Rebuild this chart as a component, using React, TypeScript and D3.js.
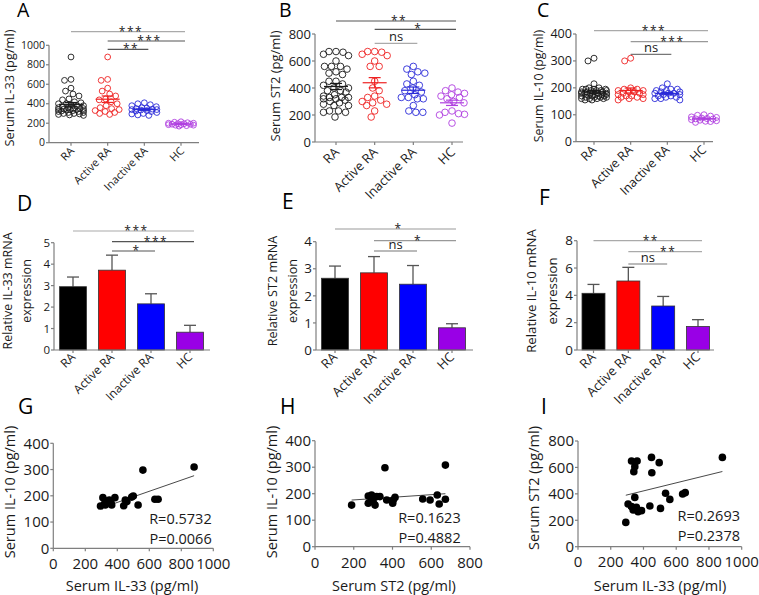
import React, { useEffect } from 'react';
import * as d3 from 'd3';

// ---------- DATA ----------
const CATS = ['RA', 'Active RA', 'Inactive RA', 'HC'];

// Panel A: serum IL-33 (pg/ml)
const il33Active = [880, 650, 640, 560, 530, 500, 480, 450, 440, 420, 400, 380, 360, 350, 340, 330, 320, 310, 300, 290];
const il33Inactive = [410, 400, 390, 380, 370, 360, 355, 350, 345, 340, 340, 335, 330, 325, 320, 310, 300, 295, 285, 280];
const il33HC = [215, 210, 205, 200, 200, 195, 195, 190, 190, 185, 185, 180, 180, 175, 170];

// Panel B: serum ST2 (pg/ml)
const st2Active = [670, 670, 665, 650, 640, 600, 560, 560, 450, 400, 380, 340, 330, 310, 300, 290, 280, 270, 230, 185];
const st2Inactive = [560, 540, 520, 510, 500, 450, 430, 420, 400, 380, 370, 350, 330, 320, 330, 320, 270, 230, 220, 220];
const st2HC = [400, 380, 370, 360, 350, 340, 330, 320, 300, 290, 230, 220, 210, 205, 200, 140];

// Panel C: serum IL-10 (pg/ml)
const il10Active = [310, 300, 200, 195, 195, 190, 190, 185, 185, 180, 180, 175, 175, 170, 170, 165, 165, 160, 160, 155];
const il10Inactive = [215, 200, 195, 195, 190, 190, 185, 185, 180, 180, 180, 175, 175, 170, 170, 165, 165, 160, 160, 155];
const il10HC = [100, 98, 95, 92, 90, 88, 86, 85, 84, 82, 80, 78, 76, 75, 72];

// Panels D-F: relative mRNA expression (mean, SEM)
const il33Mrna = [2.95, 3.72, 2.15, 0.83];
const il33MrnaSem = [0.45, 0.7, 0.47, 0.32];
const st2Mrna = [2.65, 2.85, 2.43, 0.82];
const st2MrnaSem = [0.45, 0.6, 0.69, 0.15];
const il10Mrna = [4.15, 5.05, 3.22, 1.72];
const il10MrnaSem = [0.65, 1.0, 0.7, 0.5];

// Significance comparisons [from, to, label]
const sigA: [number, number, string][] = [[0, 3, '***'], [1, 3, '***'], [1, 2, '**']];
const sigB: [number, number, string][] = [[0, 3, '**'], [1, 3, '*'], [1, 2, 'ns']];
const sigC: [number, number, string][] = [[0, 3, '***'], [1, 3, '***'], [1, 2, 'ns']];
const sigD: [number, number, string][] = [[0, 3, '***'], [1, 3, '***'], [1, 2, '*']];
const sigE: [number, number, string][] = [[0, 3, '*'], [1, 3, '*'], [1, 2, 'ns']];
const sigF: [number, number, string][] = [[0, 3, '**'], [1, 3, '**'], [1, 2, 'ns']];

// Panel G: IL-33 vs IL-10
const gIl33 = [880, 560, 635, 655, 500, 490, 530, 450, 440, 385, 365, 350, 340, 310, 325, 295, 330, 460, 360, 320];
const gIl10 = [310, 298, 187, 187, 199, 195, 165, 184, 162, 193, 165, 184, 176, 193, 165, 161, 180, 178, 175, 170];
const gFit = { slope: 0.212, intercept: 90, from: 290, to: 880 };
const gStats = ['R=0.5732', 'P=0.0066'];

// Panel H: ST2 vs IL-10
const hSt2 = [189, 275, 292, 292, 318, 361, 370, 404, 413, 401, 310, 556, 594, 631, 641, 673, 673, 275, 335, 300];
const hIl10 = [157, 164, 182, 195, 189, 298, 176, 176, 186, 164, 157, 180, 176, 195, 161, 308, 179, 191, 189, 170];
const hFit = { slope: 0.0496, intercept: 166.6, from: 189, to: 673 };
const hStats = ['R=0.1623', 'P=0.4882'];

// Panel I: IL-33 vs ST2
const iIl33 = [882, 449, 496, 327, 361, 347, 341, 451, 347, 535, 561, 639, 655, 306, 327, 337, 357, 388, 367, 439, 504, 292];
const iSt2 = [676, 676, 636, 649, 649, 606, 568, 560, 373, 404, 358, 399, 409, 323, 303, 278, 298, 273, 265, 308, 290, 184];
const iFit = { slope: 0.3046, intercept: 300.5, from: 292, to: 882 };
const iStats = ['R=0.2693', 'P=0.2378'];

// ---------- STYLE ----------
const FONT = "'Open Sans', sans-serif";
const AXIS = '#7f7f7f';
const TXT = '#1a1a1a';
const DOT_COLORS = ['#1a1a1a', '#ee2222', '#2a2ad8', '#b040e0'];
const BAR_COLORS = ['#000000', '#ff0000', '#0000ff', '#9900e6'];

// deterministic beeswarm layout: each point takes the least-overlapping slot within ±maxW
function swarm(vals: number[], y: (v: number) => number, r: number, maxW: number) {
  const out = vals.map((v) => ({ v, py: y(v), dx: 0 }));
  const order = vals.map((_, i) => i).sort((a, b) => vals[b] - vals[a]);
  const placed: { x: number; y: number }[] = [];
  for (const i of order) {
    const py = out[i].py;
    let best = 0;
    let bestCost = Infinity;
    for (let dx = -maxW; dx <= maxW + 1e-9; dx += 0.5) {
      let c = 0.01 * Math.abs(dx);
      for (const p of placed) {
        const d = Math.hypot(p.x - dx, p.y - py);
        const o = 2 * r + 0.4 - d;
        if (o > 0) c += o * o;
      }
      if (c < bestCost - 1e-9) {
        bestCost = c;
        best = dx;
      }
    }
    out[i].dx = best;
    placed.push({ x: best, y: py });
  }
  return out;
}

function Sig({ x, sig, ys, colors, fs }: any) {
  return (
    <g>
      {sig.map(([a, b, t]: [number, number, string], i: number) => {
        const x1 = x(CATS[a]);
        const x2 = x(CATS[b]) + 4;
        const yy = ys[i];
        const isNs = t === 'ns';
        return (
          <g key={i}>
            <line x1={x1} x2={x2} y1={yy} y2={yy} stroke={colors[i]} strokeWidth={1.2} />
            <text x={(x1 + x2) / 2 + (isNs ? 0 : 3)} y={isNs ? yy - 2 : yy + 4} textAnchor="middle" fontSize={isNs ? fs + 1 : fs}
              letterSpacing={isNs ? 0 : 1.5} fill={TXT} fontFamily={FONT}>{t}</text>
          </g>
        );
      })}
    </g>
  );
}

function YAxis({ y, ticks, x0, fs }: any) {
  const r = y.range();
  return (
    <g>
      <line x1={x0} x2={x0} y1={r[0]} y2={r[1]} stroke={AXIS} strokeWidth={1.2} />
      {ticks.map((t: number) => (
        <g key={t}>
          <line x1={x0 - 3} x2={x0} y1={y(t)} y2={y(t)} stroke={AXIS} strokeWidth={1.2} />
          <text x={x0 - 4} y={y(t)} dy="0.35em" textAnchor="end" fontSize={fs} fill={TXT} fontFamily={FONT}>
            {t}
          </text>
        </g>
      ))}
    </g>
  );
}

function CatAxis({ x, axX, y0, fs, off }: any) {
  return (
    <g>
      <line x1={axX[0]} x2={axX[1]} y1={y0} y2={y0} stroke={AXIS} strokeWidth={1.2} />
      {CATS.map((c) => (
        <g key={c}>
          <line x1={x(c)} x2={x(c)} y1={y0} y2={y0 + 3} stroke={AXIS} strokeWidth={1.2} />
          <text transform={`translate(${x(c) + off[0]},${y0 + off[1]}) rotate(-45)`} textAnchor="end"
            fontSize={fs} fill={TXT} fontFamily={FONT}>{c}</text>
        </g>
      ))}
    </g>
  );
}

function Letter({ t, x, y, fs }: any) {
  return <text x={x} y={y} fontSize={fs} fill="#000" fontFamily={FONT}>{t}</text>;
}

function DotPanel({ L, groups, sig }: any) {
  const x = d3.scalePoint<string>().domain(CATS).range(L.cat);
  const y = d3.scaleLinear().domain([0, L.yMax]).range(L.yR);
  const ticks = d3.range(0, L.yMax + 1e-9, L.tickStep);
  return (
    <g>
      <Letter t={L.letter} x={L.lx} y={L.ly} fs={19.5} />
      <Sig x={x} sig={sig} ys={L.sigY} colors={L.sigC} fs={12} />
      {groups.map((vals: number[], gi: number) => {
        const cx = x(CATS[gi])!;
        const pts = swarm(vals, y, L.r, 12.5);
        const m = d3.mean(vals)!;
        const sem = d3.deviation(vals)! / Math.sqrt(vals.length);
        const col = DOT_COLORS[gi];
        return (
          <g key={gi}>
            {pts.map((p, i) => (
              <circle key={i} cx={cx + p.dx} cy={p.py} r={L.r} fill="none" stroke={col} strokeWidth={0.9} />
            ))}
            <line x1={cx - 12} x2={cx + 12} y1={y(m)} y2={y(m)} stroke={col} strokeWidth={1.2} />
            <line x1={cx} x2={cx} y1={y(m - sem)} y2={y(m + sem)} stroke={col} strokeWidth={1.2} />
            <line x1={cx - 6} x2={cx + 6} y1={y(m + sem)} y2={y(m + sem)} stroke={col} strokeWidth={1.2} />
            <line x1={cx - 6} x2={cx + 6} y1={y(m - sem)} y2={y(m - sem)} stroke={col} strokeWidth={1.2} />
          </g>
        );
      })}
      <YAxis y={y} ticks={ticks} x0={L.axX[0]} fs={L.tfs} />
      <CatAxis x={x} axX={L.axX} y0={L.yR[0]} fs={L.cfs} off={L.off} />
      <text transform={`translate(${L.ylx},${L.yly}) rotate(-90)`} textAnchor="middle" dominantBaseline="central"
        fontSize={L.ylfs} fill={TXT} fontFamily={FONT}>{L.yl}</text>
    </g>
  );
}

function BarPanel({ L, means, sems, sig }: any) {
  const x = d3.scalePoint<string>().domain(CATS).range(L.cat);
  const y = d3.scaleLinear().domain([0, L.yMax]).range(L.yR);
  const ticks = d3.range(0, L.yMax + 1e-9, L.tickStep);
  return (
    <g>
      <Letter t={L.letter} x={L.lx} y={L.ly} fs={21} />
      <Sig x={x} sig={sig} ys={L.sigY} colors={L.sigC} fs={12} />
      {means.map((m: number, i: number) => {
        const cx = x(CATS[i])!;
        const top = y(m + sems[i]);
        return (
          <g key={i}>
            <line x1={cx} x2={cx} y1={y(m)} y2={top} stroke="#555" strokeWidth={1.3} />
            <line x1={cx - 6} x2={cx + 6} y1={top} y2={top} stroke="#555" strokeWidth={1.3} />
            <rect x={cx - L.bw / 2} y={y(m)} width={L.bw} height={y(0) - y(m)} fill={BAR_COLORS[i]}
              stroke="#333" strokeWidth={0.8} />
          </g>
        );
      })}
      <YAxis y={y} ticks={ticks} x0={L.axX[0]} fs={L.tfs} />
      <CatAxis x={x} axX={L.axX} y0={L.yR[0]} fs={L.cfs} off={L.off} />
      {L.yl.map((t: string, i: number) => (
        <text key={i} transform={`translate(${L.ylx[i]},${L.yly}) rotate(-90)`} textAnchor="middle"
          dominantBaseline="central" fontSize={L.ylfs} fill={TXT} fontFamily={FONT}>{t}</text>
      ))}
    </g>
  );
}

function ScatterPanel({ L, xs, ys, fit, stats }: any) {
  const x = d3.scaleLinear().domain([0, L.xMax]).range(L.xR);
  const y = d3.scaleLinear().domain([0, L.yMax]).range(L.yR);
  const xt = d3.range(0, L.xMax + 1e-9, L.xStep);
  const yt = d3.range(0, L.yMax + 1e-9, L.yStep);
  const line = d3.line<number>().x((v) => x(v)).y((v) => y(fit.intercept + fit.slope * v));
  return (
    <g>
      <Letter t={L.letter} x={L.lx} y={L.ly} fs={21} />
      <path d={line([fit.from, fit.to])!} stroke="#333" strokeWidth={0.9} fill="none" />
      {xs.map((v: number, i: number) => (
        <circle key={i} cx={x(v)} cy={y(ys[i])} r={3.8} fill="#000" />
      ))}
      <YAxis y={y} ticks={yt} x0={L.xR[0]} fs={L.tfs} />
      <line x1={L.xR[0]} x2={L.xR[1]} y1={L.yR[0]} y2={L.yR[0]} stroke={AXIS} strokeWidth={1.2} />
      {xt.map((t: number) => (
        <g key={t}>
          <line x1={x(t)} x2={x(t)} y1={L.yR[0]} y2={L.yR[0] + 3} stroke={AXIS} strokeWidth={1.2} />
          <text x={x(t)} y={L.xtY} textAnchor="middle" fontSize={L.tfs} fill={TXT} fontFamily={FONT}>{t}</text>
        </g>
      ))}
      <text x={L.xlx} y={L.xly} textAnchor="middle" fontSize={14.5} fill={TXT} fontFamily={FONT}>{L.xl}</text>
      <text transform={`translate(${L.ylx},${L.yly}) rotate(-90)`} textAnchor="middle" dominantBaseline="central"
        fontSize={14.5} fill={TXT} fontFamily={FONT}>{L.yl}</text>
      {stats.map((s: string, i: number) => (
        <text key={i} x={L.statX} y={L.statY[i]} textAnchor="end" fontSize={14.5} fill={TXT} fontFamily={FONT}>{s}</text>
      ))}
    </g>
  );
}

// ---------- LAYOUT ----------
const LA = { letter: 'A', lx: 17, ly: 16.5, axX: [49, 199], cat: [71, 181], yR: [142.7, 45.3], yMax: 1000, tickStep: 200,
  tfs: 10.5, yl: 'Serum IL-33 (pg/ml)', ylx: 9, yly: 88, ylfs: 12.8, cfs: 11, r: 2.9, off: [4, 9],
  sigY: [31.7, 41, 49.3], sigC: ['#aaa', '#555', '#555'] };
const LB = { letter: 'B', lx: 279, ly: 16.5, axX: [315, 463], cat: [336, 452], yR: [142, 34], yMax: 800, tickStep: 200,
  tfs: 13, yl: 'Serum ST2 (pg/ml)', ylx: 275, yly: 86, ylfs: 13, cfs: 13, r: 3.3, off: [4, 11],
  sigY: [21, 29.3, 43.3], sigC: ['#555', '#555', '#aaa'] };
const LC = { letter: 'C', lx: 537, ly: 16.5, axX: [576, 713], cat: [594, 704], yR: [141.7, 34], yMax: 400, tickStep: 100,
  tfs: 12.6, yl: 'Serum IL-10 (pg/ml)', ylx: 538, yly: 86, ylfs: 12.3, cfs: 12.5, r: 3, off: [3, 9],
  sigY: [30.7, 41.7, 54.3], sigC: ['#aaa', '#999', '#777'] };
const LD = { letter: 'D', lx: 17, ly: 211, axX: [54, 210], cat: [73, 190], bw: 27, yR: [350, 242.7], yMax: 5, tickStep: 1,
  tfs: 11.5, yl: ['Relative IL-33 mRNA', 'expression'], ylx: [7.5, 26], yly: 291, ylfs: 12.5, cfs: 12, off: [3, 8],
  sigY: [231, 241.7, 251], sigC: ['#aaa', '#555', '#555'] };
const LE = { letter: 'E', lx: 282, ly: 209, axX: [316, 473], cat: [335, 452], bw: 27, yR: [350, 241.7], yMax: 4, tickStep: 1,
  tfs: 13.4, yl: ['Relative ST2 mRNA', 'expression'], ylx: [272, 292], yly: 291, ylfs: 12.6, cfs: 13, off: [3, 8],
  sigY: [229, 240.7, 251], sigC: ['#999', '#999', '#777'] };
const LF = { letter: 'F', lx: 539, ly: 205, axX: [577, 714], cat: [593.5, 698], bw: 23, yR: [350, 240.7], yMax: 8, tickStep: 2,
  tfs: 13.4, yl: ['Relative IL-10 mRNA', 'expression'], ylx: [531, 552], yly: 291, ylfs: 13.2, cfs: 13, off: [3, 8],
  sigY: [240.7, 251.7, 264], sigC: ['#aaa', '#aaa', '#777'] };
const LG = { letter: 'G', lx: 18, ly: 414, xR: [53.3, 213.3], xMax: 1000, xStep: 200, yR: [548.3, 443.3], yMax: 400, yStep: 100,
  tfs: 15, xtY: 569, xl: 'Serum IL-33 (pg/ml)', xlx: 132, xly: 591, yl: 'Serum IL-10 (pg/ml)', ylx: 9, yly: 492,
  statX: 211.7, statY: [524, 544] };
const LH = { letter: 'H', lx: 280, ly: 414, xR: [315, 470], xMax: 800, xStep: 200, yR: [546.7, 440.7], yMax: 400, yStep: 100,
  tfs: 15, xtY: 568, xl: 'Serum ST2 (pg/ml)', xlx: 394, xly: 591, yl: 'Serum IL-10 (pg/ml)', ylx: 271, yly: 492,
  statX: 460.7, statY: [523, 543] };
const LI = { letter: 'I', lx: 541, ly: 414, xR: [578, 741.7], xMax: 1000, xStep: 200, yR: [546.7, 441], yMax: 800, yStep: 200,
  tfs: 15, xtY: 567, xl: 'Serum IL-33 (pg/ml)', xlx: 660, xly: 591, yl: 'Serum ST2 (pg/ml)', ylx: 533, yly: 488,
  statX: 740, statY: [520.7, 540.7] };

export default function App() {
  useEffect(() => {
    document.body.style.margin = '0';
  }, []);
  return (
    <svg width={759} height={595} viewBox="0 0 759 595"
      style={{ display: 'block', position: 'absolute', left: 0, top: 0, background: '#fff' }}>
      <rect x={0} y={0} width={759} height={595} fill="#fff" />
      <DotPanel L={LA} groups={[[...il33Active, ...il33Inactive], il33Active, il33Inactive, il33HC]} sig={sigA} />
      <DotPanel L={LB} groups={[[...st2Active, ...st2Inactive], st2Active, st2Inactive, st2HC]} sig={sigB} />
      <DotPanel L={LC} groups={[[...il10Active, ...il10Inactive], il10Active, il10Inactive, il10HC]} sig={sigC} />
      <BarPanel L={LD} means={il33Mrna} sems={il33MrnaSem} sig={sigD} />
      <BarPanel L={LE} means={st2Mrna} sems={st2MrnaSem} sig={sigE} />
      <BarPanel L={LF} means={il10Mrna} sems={il10MrnaSem} sig={sigF} />
      <ScatterPanel L={LG} xs={gIl33} ys={gIl10} fit={gFit} stats={gStats} />
      <ScatterPanel L={LH} xs={hSt2} ys={hIl10} fit={hFit} stats={hStats} />
      <ScatterPanel L={LI} xs={iIl33} ys={iSt2} fit={iFit} stats={iStats} />
    </svg>
  );
}
